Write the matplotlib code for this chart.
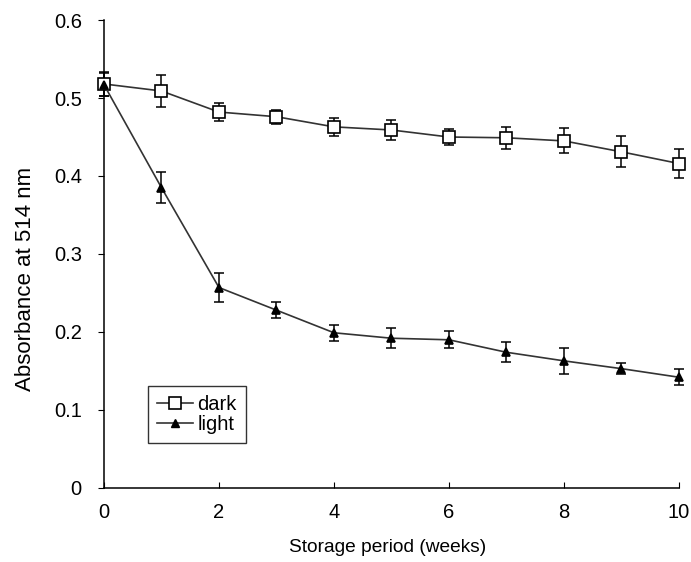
import numpy as np
import matplotlib
matplotlib.use("Agg")
import matplotlib.pyplot as plt
from matplotlib.lines import Line2D

plt.rcParams['font.family'] = ['Liberation Sans', 'DejaVu Sans']

weeks = [0, 1, 2, 3, 4, 5, 6, 7, 8, 9, 10]
dark = [0.518, 0.509, 0.482, 0.476, 0.463, 0.459, 0.450, 0.449, 0.445, 0.431, 0.416]
dark_err = [0.015, 0.020, 0.012, 0.009, 0.012, 0.013, 0.010, 0.014, 0.016, 0.020, 0.018]
light = [0.517, 0.385, 0.257, 0.228, 0.199, 0.192, 0.190, 0.174, 0.163, 0.153, 0.142]
light_err = [0.015, 0.020, 0.019, 0.010, 0.010, 0.013, 0.011, 0.013, 0.017, 0.007, 0.010]

fig = plt.figure(figsize=(6.91, 5.62), dpi=100)
ax = fig.add_axes([0.1505, 0.1317, 0.832, 0.8327])

line_kw = dict(color='#333333', lw=1.2)
err_kw = dict(ecolor='black', elinewidth=1.1, capsize=3.6, capthick=1.1, ls='none')

for y, e, mk, ms, mfc in [(dark, dark_err, 's', 9, 'white'), (light, light_err, '^', 6, 'black')]:
    eb = ax.errorbar(weeks, y, yerr=e, **err_kw)
    for art in eb.lines[1] + eb.lines[2]:
        art.set_clip_on(False)
    ax.plot(weeks, y, marker=mk, ms=ms, mfc=mfc, mec='black', mew=1.2,
            clip_on=False, zorder=3, **line_kw)

ax.set_xlim(0, 10)
ax.set_ylim(0, 0.6)
ax.set_xticks([0, 2, 4, 6, 8, 10])
ax.set_yticks([0, 0.1, 0.2, 0.3, 0.4, 0.5, 0.6])
ax.set_yticklabels(['0', '0.1', '0.2', '0.3', '0.4', '0.5', '0.6'])

for s in ['top', 'right']:
    ax.spines[s].set_visible(False)
for s in ['left', 'bottom']:
    ax.spines[s].set_linewidth(1.1)

ax.tick_params(axis='x', direction='in', length=4, labelsize=14.5, pad=11)
ax.tick_params(axis='y', direction='out', length=4, labelsize=14.5, pad=12)

ax.set_xlabel('Storage period (weeks)', fontsize=13.8)
ax.xaxis.set_label_coords(0.494, -0.108)
ax.set_ylabel('Absorbance at 514 nm', fontsize=16)
ax.yaxis.set_label_coords(-0.118, 0.447)

handles = [Line2D([], [], marker='s', ms=9, mfc='white', mec='black', mew=1.2, **line_kw),
           Line2D([], [], marker='^', ms=6, mfc='black', mec='black', **line_kw)]
leg = ax.legend(handles, ['dark', 'light'], loc='lower left', bbox_to_anchor=(0.0765, 0.096),
                borderaxespad=0, fontsize=14.5, frameon=True, fancybox=False, edgecolor='black',
                handlelength=1.8, handletextpad=0.2, borderpad=0.45, labelspacing=0.05)
leg.get_frame().set_linewidth(1.0)

fig.savefig('out.png', dpi=100)
